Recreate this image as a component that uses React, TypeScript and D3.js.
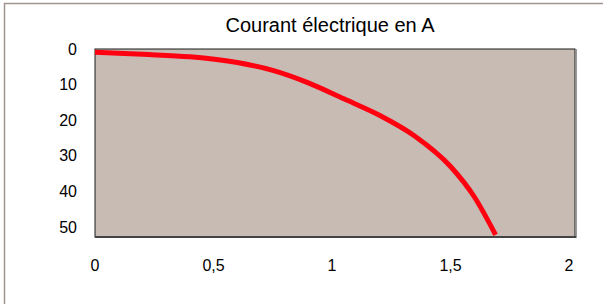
import { curveMonotoneX, line, scaleLinear } from 'd3'

const WIDTH = 603
const HEIGHT = 304
const PLOT = { left: 95, top: 49, right: 575, bottom: 237 }

const title = 'Courant électrique en A'
const courant = [0, 0.2, 0.4, 0.6, 0.75, 0.9, 1.05, 1.2, 1.35, 1.5, 1.6, 1.69]
const tension = [0.9, 1.5, 2.2, 3.8, 6.0, 9.5, 14, 18.6, 24.5, 33, 41.5, 52.2]
const xTicks = [0, 0.5, 1, 1.5, 2]
const yTicks = [0, 10, 20, 30, 40, 50]

const FONT = 'Liberation Sans, Arial, sans-serif'

export default function App() {
  const x = scaleLinear().domain([0, 2.025]).range([PLOT.left, PLOT.right])
  const y = scaleLinear().domain([0, 52.8]).range([PLOT.top, PLOT.bottom])

  const points = courant.map((c, i) => [c, tension[i]] as [number, number])
  const curve = line<[number, number]>()
    .x((d) => x(d[0]))
    .y((d) => y(d[1]))
    .curve(curveMonotoneX)

  return (
    <svg
      width={WIDTH}
      height={HEIGHT}
      style={{ position: 'absolute', left: 0, top: 0, background: '#fff' }}
    >
      <rect x={4.5} y={3.5} width={620} height={320} fill="#fff" stroke="#a0948e" strokeWidth={1.5} />
      <text x={330} y={32} textAnchor="middle" fontFamily={FONT} fontSize={20} fill="#000">
        {title}
      </text>
      <rect
        x={PLOT.left}
        y={PLOT.top}
        width={PLOT.right - PLOT.left}
        height={PLOT.bottom - PLOT.top}
        fill="#c7bbb4"
        stroke="#1a1a1a"
        strokeWidth={1}
      />
      <line x1={PLOT.right + 1.5} x2={PLOT.right + 1.5} y1={PLOT.top} y2={PLOT.bottom + 1} stroke="#9a9a9a" strokeWidth={1} />
      <line x1={PLOT.left} x2={PLOT.right + 1} y1={PLOT.bottom} y2={PLOT.bottom} stroke="#444" strokeWidth={2} />
      <path d={curve(points) ?? ''} fill="none" stroke="#ff0010" strokeWidth={5} />
      {yTicks.map((t) => (
        <text key={t} x={77} y={y(t) + 5.5} textAnchor="end" fontFamily={FONT} fontSize={16} fill="#000">
          {t}
        </text>
      ))}
      {xTicks.map((t) => (
        <text key={t} x={x(t)} y={271} textAnchor="middle" fontFamily={FONT} fontSize={16} fill="#000">
          {String(t).replace('.', ',')}
        </text>
      ))}
    </svg>
  )
}
